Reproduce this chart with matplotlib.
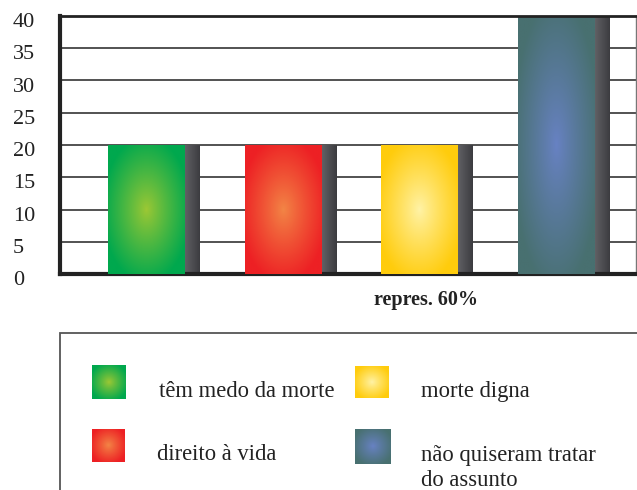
import numpy as np
import matplotlib
matplotlib.use("Agg")
import matplotlib.pyplot as plt
from matplotlib.patches import Rectangle
from matplotlib.transforms import ScaledTranslation

# data
categories = ["têm medo da morte", "direito à vida", "morte digna",
              "não quiseram tratar\ndo assunto"]
values = [20, 20, 20, 40]
yticks = [0, 5, 10, 15, 20, 25, 30, 35, 40]
note = "repres. 60%"

# center colour / edge colour of each radial gradient
centers = [(158, 200, 52), (243, 134, 70), (255, 243, 168), (104, 130, 196)]
edges = [(0, 168, 78), (237, 32, 36), (255, 204, 12), (72, 112, 112)]

W, H = 637, 490
plt.rcParams['font.family'] = ['Liberation Serif', 'DejaVu Serif']


def px(x, y):
    # pixel coords (top-left origin) -> figure fraction
    return x / W, 1 - y / H


def radial(c0, c1, n=120):
    yy, xx = np.mgrid[-1:1:n * 1j, -1:1:n * 1j]
    r = np.clip(np.sqrt(xx ** 2 + yy ** 2) / 1.15, 0, 1) ** 0.9
    t = r[..., None]
    img = (1 - t) * np.array(c0) + t * np.array(c1)
    return img / 255.0


def shade(n=40):
    t = np.linspace(0, 1, n)[None, :, None]
    img = (1 - t) * np.array([96, 96, 100]) + t * np.array([60, 60, 64])
    return np.repeat(img, 4, axis=0) / 255.0


fig = plt.figure(figsize=(W / 100, H / 100), dpi=100)
x0, y0 = px(60, 274)
x1, y1 = px(636, 16)
ax = fig.add_axes([x0, y0, x1 - x0, y1 - y0])

step = 136.7
xs = np.arange(len(values))
bw = 77 / step
sw = 15 / step

for i, v in enumerate(values):
    # shadow strip on the right side of each bar
    sx = xs[i] + bw / 2
    sh = Rectangle((sx, 0), sw, v, facecolor='none', edgecolor='none')
    ax.add_patch(sh)
    im = ax.imshow(shade(), extent=[sx, sx + sw, 0, v], aspect='auto',
                   zorder=2, interpolation='bilinear')
    im.set_clip_path(sh)
    bars = ax.bar(xs[i], v, width=bw, facecolor='none', edgecolor='none', zorder=3)
    im = ax.imshow(radial(centers[i], edges[i]),
                   extent=[xs[i] - bw / 2, xs[i] + bw / 2, 0, v],
                   aspect='auto', zorder=3, interpolation='bilinear')
    im.set_clip_path(bars[0])

ax.set_xlim(-(146.5 - 60) / step, (636 - 146.5) / step)
ax.set_ylim(0, 40)
ax.set_xticks([])
ax.set_yticks(yticks)
ax.set_yticklabels([str(t) for t in yticks])
ax.tick_params(axis='y', length=0, pad=47 * 0.72, labelsize=16, labelcolor='#222222')
shift = ScaledTranslation(0, -4 / 100, fig.dpi_scale_trans)
for lab in ax.get_yticklabels():
    lab.set_horizontalalignment('left')
    lab.set_transform(lab.get_transform() + shift)
ax.yaxis.grid(True, color='#444444', linewidth=1.3)
ax.set_axisbelow(True)

ax.spines['left'].set_linewidth(3)
ax.spines['bottom'].set_linewidth(3)
ax.spines['top'].set_linewidth(2)
ax.spines['right'].set_linewidth(1)
for s in ['left', 'bottom', 'top']:
    ax.spines[s].set_color('#222222')
ax.spines['right'].set_color('#777777')
ax.spines['top'].set_zorder(4)

tx, ty = px(426, 300)
fig.text(tx, ty, note, ha='center', va='center', fontsize=14.5,
         fontweight='bold', color='#222222')

# legend box (runs off the right and bottom edge)
lx, ly = px(60, 333)
fig.patches.append(Rectangle((lx, -0.1), 1.2, ly + 0.1, transform=fig.transFigure,
                             facecolor='none', edgecolor='#555555', linewidth=1.3))

swatches = [(92, 365, 126, 399), (92, 429, 125, 462),
            (355, 366, 389, 398), (355, 429, 391, 464)]
text_pos = [(159, 391), (157, 454), (421, 391), (421, 468)]
for i, cat in enumerate(categories):
    a, b, c, d = swatches[i]
    fx0, fy1 = px(a, b)
    fx1, fy0 = px(c, d)
    sax = fig.add_axes([fx0, fy0, fx1 - fx0, fy1 - fy0])
    sax.imshow(radial(centers[i], edges[i]), aspect='auto', interpolation='bilinear')
    sax.axis('off')
    tx, ty = px(*text_pos[i])
    fig.text(tx, ty, cat, ha='left', va='center', fontsize=16.3,
             color='#222222', linespacing=1.2)

fig.savefig("out.png", dpi=100)
